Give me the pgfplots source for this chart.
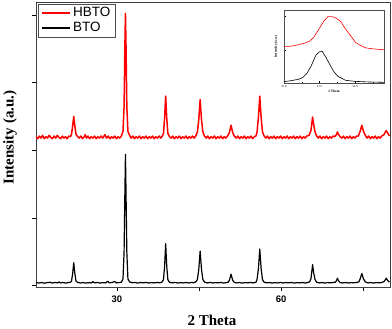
\documentclass[border=0pt]{standalone}
\usepackage{fontspec}
\setmainfont{Liberation Serif}
\newfontfamily\arialfont{Liberation Sans}
\usepackage{pgfplots}
\pgfplotsset{compat=1.18}

\begin{document}
\begin{tikzpicture}
\useasboundingbox (-36pt,-42pt) rectangle (356pt,287pt);
\begin{axis}[
  scale only axis,
  width=354pt, height=285pt,
  xmin=15.2, xmax=79.9,
  ymin=-0.02, ymax=4.19,
  xtick={30,45,60,75},
  xticklabels={30,,60,},
  ytick={0,1,2,3,4},
  yticklabels={},
  xtick pos=bottom, ytick pos=left,
  tick align=outside,
  major tick length=4pt,
  axis line style={line width=0.9pt, black!75},
  tick style={line width=0.7pt, black},
  /pgf/number format/assume math mode=true,
  xticklabel style={font=\arialfont\bfseries\fontsize{9.5}{11}\selectfont, yshift=-1pt},
  xlabel={\textbf{2 Theta}},
  ylabel={\textbf{Intensity (a.u.)}},
  xlabel style={font=\fontsize{15}{17}\selectfont, at={(axis description cs:0.497,-0.118)}, anchor=center},
  ylabel style={font=\fontsize{15}{17}\selectfont, at={(axis description cs:-0.073,0.525)}, anchor=center},
  legend style={at={(axis description cs:0.006,0.994)}, anchor=north west,
    font=\arialfont\fontsize{13.5}{14}\selectfont, draw=black!70,
    inner xsep=3pt, inner ysep=1.5pt, row sep=0pt},
  legend cell align=left,
  legend image code/.code={\draw[mark repeat=2,mark phase=2,#1] plot coordinates {(0pt,0pt) (14pt,0pt) (28pt,0pt)};},
  legend image post style={line width=1.9pt},
]
% HBTO
\addplot[red, line width=1.5pt, line join=round] coordinates {
(15.2,2.20)(15.5,2.17)(15.8,2.21)(16.1,2.18)(16.4,2.22)(16.7,2.17)(17.0,2.20)(17.3,2.18)(17.6,2.22)(17.9,2.19)
(18.2,2.17)(18.5,2.21)(18.8,2.18)(19.1,2.22)(19.4,2.19)(19.7,2.17)(20.0,2.21)(20.3,2.18)(20.6,2.20)(20.9,2.17)
(21.2,2.21)(21.5,2.20)
(21.7,2.24)(21.9,2.36)(22.1,2.50)(22.3,2.36)(22.5,2.24)(22.8,2.20)
(23.1,2.18)(23.4,2.21)(23.7,2.17)(24.0,2.20)(24.2,2.23)(24.4,2.18)(24.7,2.21)(25.0,2.17)(25.3,2.20)(25.6,2.18)
(25.9,2.21)(26.2,2.17)(26.5,2.20)(26.8,2.18)(27.1,2.21)(27.4,2.18)(27.8,2.23)(28.1,2.18)(28.4,2.21)(28.7,2.17)
(29.0,2.20)(29.3,2.18)(29.6,2.21)(29.9,2.17)(30.2,2.20)(30.5,2.18)(30.8,2.21)
(31.1,2.28)(31.3,2.65)(31.45,3.55)(31.55,4.02)(31.65,3.55)(31.8,2.65)(32.0,2.28)(32.3,2.22)
(32.6,2.18)(32.9,2.21)(33.2,2.17)(33.5,2.20)(33.8,2.18)(34.1,2.21)(34.4,2.17)(34.7,2.20)(35.0,2.18)(35.3,2.21)
(35.6,2.17)(35.9,2.20)(36.2,2.18)(36.5,2.21)(36.8,2.17)(37.1,2.20)(37.4,2.18)(37.7,2.21)(38.0,2.18)(38.3,2.21)
(38.5,2.25)(38.7,2.47)(38.9,2.80)(39.1,2.47)(39.3,2.25)(39.6,2.20)
(39.9,2.18)(40.2,2.21)(40.5,2.17)(40.8,2.20)(41.1,2.18)(41.4,2.21)(41.7,2.17)(42.0,2.20)(42.3,2.18)(42.6,2.21)
(42.9,2.17)(43.2,2.20)(43.5,2.18)(43.8,2.21)(44.1,2.18)(44.4,2.21)
(44.7,2.27)(44.95,2.45)(45.2,2.75)(45.45,2.45)(45.7,2.27)(46.0,2.21)
(46.3,2.18)(46.6,2.21)(46.9,2.17)(47.2,2.20)(47.5,2.18)(47.8,2.21)(48.1,2.17)(48.4,2.20)(48.7,2.18)(49.0,2.21)
(49.3,2.17)(49.6,2.20)(49.9,2.18)(50.2,2.21)
(50.55,2.26)(50.85,2.37)(51.15,2.26)(51.45,2.21)
(51.8,2.18)(52.1,2.21)(52.4,2.17)(52.7,2.20)(53.0,2.18)(53.3,2.21)(53.6,2.17)(53.9,2.20)(54.2,2.18)(54.5,2.21)
(54.8,2.17)(55.1,2.20)(55.4,2.21)
(55.6,2.27)(55.85,2.48)(56.1,2.80)(56.35,2.48)(56.6,2.27)(56.9,2.21)
(57.2,2.18)(57.5,2.21)(57.8,2.17)(58.1,2.20)(58.4,2.18)(58.7,2.21)(59.0,2.17)(59.3,2.20)(59.6,2.18)(59.9,2.21)
(60.2,2.17)(60.5,2.20)(60.8,2.18)(61.1,2.21)(61.4,2.17)(61.7,2.20)(62.0,2.18)(62.3,2.21)(62.6,2.17)(62.9,2.20)
(63.2,2.18)(63.5,2.21)(63.8,2.17)(64.1,2.20)(64.4,2.18)(64.7,2.21)(65.1,2.22)
(65.45,2.29)(65.6,2.39)(65.75,2.49)(65.95,2.38)(66.2,2.27)(66.5,2.21)
(66.8,2.18)(67.1,2.21)(67.4,2.17)(67.7,2.20)(68.0,2.18)(68.3,2.21)(68.6,2.17)(68.9,2.20)(69.2,2.18)(69.5,2.21)
(69.8,2.20)(70.1,2.23)(70.3,2.27)(70.5,2.23)(70.8,2.20)
(71.1,2.18)(71.4,2.21)(71.7,2.17)(72.0,2.20)(72.3,2.18)(72.6,2.21)(72.9,2.17)(73.2,2.20)(73.5,2.18)(73.8,2.21)
(74.1,2.21)(74.45,2.28)(74.75,2.37)(75.05,2.28)(75.4,2.22)
(75.7,2.18)(76.0,2.21)(76.3,2.17)(76.6,2.20)(76.9,2.18)(77.2,2.21)(77.5,2.17)(77.8,2.20)(78.1,2.18)(78.4,2.21)
(78.8,2.23)(79.0,2.26)(79.2,2.29)(79.45,2.26)(79.8,2.21)
};
\addlegendentry{HBTO}
% BTO
\addplot[black, line width=1.2pt, line join=round] coordinates {
(15.2,0.045)(15.7,0.038)(16.2,0.047)(16.7,0.036)(17.2,0.044)(17.7,0.050)(18.2,0.039)(18.7,0.046)(19.2,0.041)(19.4,0.056)
(19.6,0.040)(20.1,0.047)(20.6,0.038)(21.1,0.045)(21.5,0.050)
(21.7,0.07)(21.9,0.18)(22.1,0.34)(22.3,0.18)(22.5,0.07)(22.8,0.048)
(23.3,0.039)(23.8,0.046)(24.3,0.037)(24.8,0.044)(25.3,0.040)(25.6,0.058)(25.9,0.041)(26.4,0.047)(26.9,0.038)(27.4,0.045)
(27.9,0.040)(28.3,0.065)(28.6,0.042)(29.1,0.046)(29.6,0.062)(29.9,0.040)(30.4,0.047)(30.8,0.050)
(31.1,0.10)(31.3,0.50)(31.45,1.40)(31.55,1.94)(31.65,1.40)(31.8,0.50)(32.0,0.10)(32.3,0.055)
(32.8,0.043)(33.3,0.047)(33.8,0.038)(34.3,0.046)(34.8,0.041)(35.3,0.048)(35.8,0.039)(36.3,0.045)(36.8,0.040)(37.3,0.047)
(37.8,0.042)(38.2,0.050)
(38.5,0.09)(38.7,0.28)(38.9,0.62)(39.1,0.28)(39.3,0.09)(39.6,0.050)
(40.1,0.041)(40.6,0.047)(41.1,0.038)(41.6,0.045)(42.1,0.040)(42.6,0.046)(43.1,0.039)(43.6,0.047)(44.0,0.043)(44.4,0.055)
(44.7,0.09)(44.95,0.24)(45.2,0.51)(45.45,0.24)(45.7,0.09)(46.0,0.052)
(46.5,0.040)(47.0,0.047)(47.5,0.039)(48.0,0.045)(48.5,0.041)(49.0,0.047)(49.5,0.038)(50.0,0.045)(50.3,0.050)
(50.55,0.08)(50.85,0.17)(51.15,0.08)(51.45,0.048)
(51.9,0.040)(52.4,0.046)(52.9,0.038)(53.4,0.045)(53.9,0.041)(54.4,0.047)(54.9,0.040)(55.4,0.050)
(55.6,0.09)(55.85,0.25)(56.1,0.54)(56.35,0.25)(56.6,0.09)(56.9,0.050)
(57.4,0.041)(57.9,0.046)(58.4,0.038)(58.9,0.045)(59.4,0.040)(59.9,0.047)(60.4,0.039)(60.9,0.046)(61.4,0.041)(61.9,0.047)
(62.4,0.038)(62.9,0.045)(63.4,0.040)(63.9,0.046)(64.4,0.039)(64.9,0.047)(65.2,0.055)
(65.45,0.10)(65.6,0.20)(65.75,0.31)(65.95,0.19)(66.2,0.09)(66.5,0.050)
(67.0,0.040)(67.5,0.046)(68.0,0.038)(68.5,0.045)(69.0,0.041)(69.5,0.047)(69.9,0.050)
(70.1,0.07)(70.3,0.11)(70.5,0.07)(70.8,0.045)
(71.3,0.040)(71.8,0.046)(72.3,0.039)(72.8,0.045)(73.3,0.041)(73.8,0.047)(74.2,0.055)
(74.45,0.10)(74.75,0.18)(75.05,0.10)(75.4,0.055)
(75.9,0.040)(76.4,0.046)(76.9,0.038)(77.4,0.045)(77.9,0.041)(78.4,0.047)(78.8,0.060)
(79.0,0.08)(79.2,0.11)(79.45,0.08)(79.8,0.050)
};
\addlegendentry{BTO}
\end{axis}
% inset
\begin{axis}[
  at={(248pt,204pt)}, anchor=south west,
  scale only axis,
  width=100pt, height=73pt,
  xmin=31.0, xmax=32.41,
  ymin=0, ymax=2.2,
  xtick={31.0,31.5,32.0},
  minor xtick={31.25,31.75,32.25},
  xticklabels={31.0,31.5,32.0},
  ytick={0,1,2},
  minor ytick={0.5,1.5},
  yticklabels={},
  xtick pos=bottom, ytick pos=left,
  tick align=inside,
  major tick length=2pt, minor tick length=1.2pt,
  axis line style={line width=0.4pt, black!70},
  tick style={line width=0.3pt, black},
  xticklabel style={font=\fontsize{3}{3}\selectfont, yshift=1pt},
  /pgf/number format/assume math mode=true,
  xlabel={\textbf{2 Theta}},
  ylabel={\textbf{Intensity (a.u.)}},
  xlabel style={font=\fontsize{3.5}{4}\selectfont, yshift=4pt},
  ylabel style={font=\fontsize{3.5}{4}\selectfont, yshift=-4pt},
]
\addplot[red, line width=0.6pt] coordinates {
(31.0,1.10)(31.1,1.11)(31.2,1.15)(31.3,1.21)(31.36,1.26)(31.42,1.38)(31.5,1.65)(31.56,1.86)(31.62,2.00)
(31.68,2.00)(31.74,1.95)(31.8,1.85)(31.87,1.62)(31.94,1.42)(32.01,1.22)(32.08,1.13)(32.15,1.06)(32.25,1.03)(32.41,1.00)
};
\addplot[black, line width=0.6pt] coordinates {
(31.0,0.04)(31.1,0.07)(31.2,0.11)(31.26,0.16)(31.32,0.28)(31.38,0.50)(31.45,0.84)(31.5,0.94)(31.54,0.95)
(31.59,0.78)(31.66,0.50)(31.71,0.32)(31.76,0.20)(31.87,0.08)(32.0,0.05)(32.2,0.03)(32.41,0.02)
};
\end{axis}
\end{tikzpicture}
\end{document}
